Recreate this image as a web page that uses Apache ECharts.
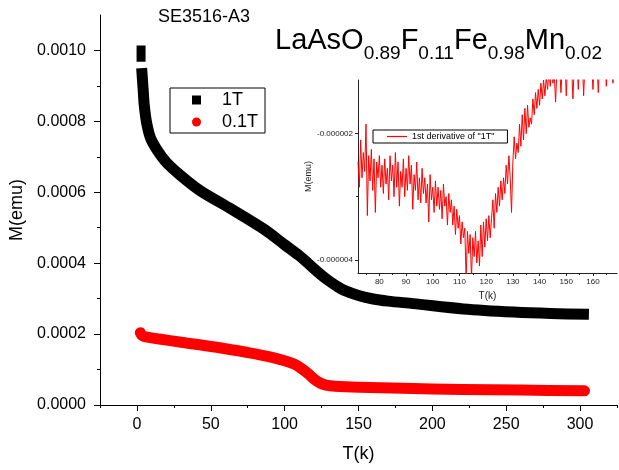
<!DOCTYPE html>
<html><head><meta charset="utf-8">
<script src="https://cdn.jsdelivr.net/npm/echarts@6/dist/echarts.min.js"></script>
<style>html,body{margin:0;padding:0;background:#fff}#c{width:619px;height:470px}</style>
</head><body><div id="c"></div>
<script>
// ---- tick labels ----
const xTicksMain = [0, 50, 100, 150, 200, 250, 300];
const xMinorMain = [-25, 25, 75, 125, 175, 225, 275, 325];
const yTicksMain = [0, 0.0002, 0.0004, 0.0006, 0.0008, 0.0010];
const yMinorMain = [0.0001, 0.0003, 0.0005, 0.0007, 0.0009];
const xTicksInset = [80, 90, 100, 110, 120, 130, 140, 150, 160];
const xMinorInset = [75, 85, 95, 105, 115, 125, 135, 145, 155, 165];
const yTicksInset = [-0.000004, -0.000002];
const yMinorInset = [-0.000003];

// ---- series: 1T ----
const T_1T_first = [2.8, 2.8];
const M_1T_first = [0.001014, 0.000968];
const T_1T = [3.2, 4.2, 4.9, 6.6, 9.3, 14, 20, 30, 43, 63, 86, 100, 110, 115, 120, 125, 130, 135, 140, 150, 160, 170, 187, 221, 255, 280, 306];
const M_1T = [0.000950, 0.000891, 0.000848, 0.000795, 0.000752, 0.000717, 0.000684, 0.000646, 0.000604, 0.000555, 0.000496, 0.000452, 0.000421, 0.000403, 0.000384, 0.000366, 0.000350, 0.000336, 0.000324, 0.000309, 0.000299, 0.000293, 0.000286, 0.000271, 0.000262, 0.000258, 0.000256];

// ---- series: 0.1T ----
const T_01T = [2.3, 3.5, 6, 15, 30, 54, 75, 90, 100, 106, 111, 116, 120, 124, 128, 134, 150, 180, 220, 260, 303];
const M_01T = [0.000204, 0.000196, 0.000192, 0.000186, 0.000177, 0.000163, 0.000148, 0.000136, 0.000125, 0.000116, 0.000104, 0.000088, 0.000073, 0.000062, 0.000056, 0.000053, 0.000050, 0.000047, 0.000044, 0.000042, 0.000040];

// ---- inset: 1st derivative of "1T" (values in units of 1e-6 emu/K) ----
const T_deriv = [
72,72.5,73,73.5,74,74.5,75,75.5,76,76.5,
77,77.5,78,78.5,79,79.5,80,80.5,81,81.5,
82,82.5,83,83.5,84,84.5,85,85.5,86,86.5,
87,87.5,88,88.5,89,89.5,90,90.5,91,91.5,
92,92.5,93,93.5,94,94.5,95,95.5,96,96.5,
97,97.5,98,98.5,99,99.5,100,100.5,101,101.5,
102,102.5,103,103.5,104,104.5,105,105.5,106,106.5,
107,107.5,108,108.5,109,109.5,110,110.5,111,111.5,
112,112.5,113,113.5,114,114.5,115,115.5,116,116.5,
117,117.5,118,118.5,119,119.5,120,120.5,121,121.5,
122,122.5,123,123.5,124,124.5,125,125.5,126,126.5,
127,127.5,128,128.5,129,129.5,130,130.5,131,131.5,
132,132.5,133,133.5,134,134.5,135,135.5,136,136.5,
137,137.5,138,138.5,139,139.5,140,140.5,141,141.5,
142,142.5,143,143.5,144,144.5,145,145.5,146,146.5,
147,147.5,148,148.5,149,149.5,150,150.5,151,151.5,
152,152.5,153,153.5,154,154.5,155,155.5,156,156.5,
157,157.5,158,158.5,159,159.5,160,160.5,161,161.5,
162,162.5,163,163.5,164,164.5,165,165.5,166,166.5,
167,167.5,168,168.5,169];
const D_deriv = [
-2.45,-2.85,-2.10,-2.70,-2.30,-2.60,-1.85,-3.30,-2.35,-2.75,
-2.25,-2.90,-2.40,-3.25,-2.45,-2.70,-2.35,-2.85,-2.50,-2.95,
-2.40,-2.80,-2.55,-3.05,-2.35,-2.75,-2.50,-3.00,-2.30,-2.85,
-2.45,-3.15,-2.60,-2.85,-2.40,-3.00,-2.55,-2.90,-2.35,-2.80,
-2.50,-3.20,-2.65,-2.90,-2.45,-3.05,-2.70,-3.10,-2.55,-2.95,
-2.70,-3.10,-2.80,-3.40,-2.65,-3.05,-2.85,-3.25,-2.75,-3.15,
-2.85,-3.20,-2.90,-3.35,-2.80,-3.15,-3.00,-3.45,-2.95,-3.25,
-3.05,-3.45,-3.15,-3.60,-3.20,-3.50,-3.30,-3.75,-3.40,-3.65,
-3.50,-4.30,-3.55,-3.90,-3.60,-4.30,-3.65,-3.95,-3.55,-4.05,
-3.70,-4.10,-3.45,-3.95,-3.40,-3.80,-3.35,-3.70,-3.30,-3.65,
-3.35,-3.05,-3.50,-2.95,-3.25,-2.85,-3.15,-2.75,-3.05,-2.70,
-2.95,-2.50,-2.80,-2.35,-2.70,-3.25,-2.45,-2.05,-2.40,-2.15,
-2.30,-1.85,-2.20,-1.70,-2.10,-1.60,-2.00,-1.55,-1.90,-1.75,
-1.85,-1.45,-1.70,-1.35,-1.60,-1.30,-1.55,-1.20,-1.45,-1.15,
-1.40,-1.10,-1.30,-1.00,-1.25,-0.95,-1.20,-1.05,-1.50,-1.00,
-1.10,-0.90,-1.35,-0.95,-1.05,-0.85,-1.40,-0.90,-1.00,-0.85,
-0.95,-1.45,-0.90,-1.00,-0.85,-1.30,-0.90,-0.95,-0.80,-1.40,
-0.90,-1.05,-0.85,-0.95,-0.80,-0.90,-1.30,-0.85,-0.80,-0.90,
-1.35,-0.85,-0.80,-0.90,-0.85,-0.80,-1.25,-0.90,-0.85,-0.80,
-0.85,-1.20,-0.80,-0.85,-0.80];

const FONT = 'Liberation Sans, Arial, sans-serif';
const zip = (a, b, k) => a.map((v, i) => [v, b[i] * (k || 1)]);

function valAxis(o) {
  return Object.assign({
    type: 'value',
    splitLine: { show: false },
    axisLine: { show: true, onZero: false, lineStyle: { color: '#000', width: 1 } },
  }, o);
}

const chart = echarts.init(document.getElementById('c'), null, { renderer: 'canvas' });
chart.setOption({
  animation: false,
  backgroundColor: '#fff',
  textStyle: { fontFamily: FONT },
  title: [
    { text: 'SE3516-A3', left: 158, top: 8, padding: 0,
      textStyle: { fontSize: 18, fontWeight: 'normal', color: '#000', fontFamily: FONT, lineHeight: 18 } },
    { text: '{m|LaAsO}{s|0.89}{m|F}{s|0.11}{m|Fe}{s|0.98}{m|Mn}{s|0.02}', left: 275, top: 26, padding: 0,
      textStyle: {
        fontFamily: FONT, color: '#000', fontWeight: 'normal',
        rich: {
          m: { fontSize: 29, lineHeight: 29, verticalAlign: 'top', fontFamily: FONT, color: '#000', fontWeight: 'normal' },
          s: { fontSize: 19, lineHeight: 19, verticalAlign: 'top', padding: [18, 0, 0, 0], fontFamily: FONT, color: '#000', fontWeight: 'normal' }
        }
      } }
  ],
  legend: [
    { orient: 'vertical', left: 170, top: 88, itemWidth: 9, itemHeight: 9, itemGap: 0,
      padding: [1, 7, 0, 22], borderColor: '#000', borderWidth: 1, borderRadius: 0,
      selectedMode: false,
      textStyle: { fontSize: 18, lineHeight: 22, color: '#000', fontFamily: FONT, padding: [0, 0, 0, 16] },
      data: [ { name: '1T', icon: 'rect' }, { name: '0.1T', icon: 'circle' } ] },
    { orient: 'vertical', left: 373, top: 130, itemWidth: 20, itemHeight: 11, itemGap: 0,
      padding: [1, 13, 1, 14], borderColor: '#000', borderWidth: 1, borderRadius: 0, selectedMode: false,
      symbolKeepAspect: true,
      textStyle: { fontSize: 9, lineHeight: 11, color: '#000', fontFamily: FONT },
      data: [ { name: '1st derivative of "1T"', icon: 'path://M0,0L1,0L1,0.06L0,0.06Z' } ] }
  ],
  grid: [
    { left: 100, top: 15, right: 2, bottom: 65 },
    { left: 358, top: 80, right: 2, bottom: 197 }
  ],
  xAxis: [
    valAxis({ gridIndex: 0, min: -25, max: 325,
      axisTick: { show: true, customValues: xTicksMain, length: 6, lineStyle: { color: '#000' } },
      axisLabel: { customValues: xTicksMain, fontSize: 16, color: '#000', margin: 12, fontFamily: FONT },
      name: 'T(k)', nameLocation: 'middle', nameGap: 40,
      nameTextStyle: { fontSize: 18, color: '#000', fontFamily: FONT } }),
    valAxis({ gridIndex: 0, min: -25, max: 325, position: 'bottom', axisLine: { show: false, onZero: false },
      axisTick: { show: true, customValues: xMinorMain, length: 3, lineStyle: { color: '#000' } },
      axisLabel: { show: false } }),
    valAxis({ gridIndex: 1, min: 72, max: 169,
      axisLine: { show: true, onZero: false, lineStyle: { color: '#222', width: 1 } },
      axisTick: { show: true, customValues: xTicksInset, length: 3, lineStyle: { color: '#222' } },
      axisLabel: { customValues: xTicksInset, fontSize: 8, color: '#222', margin: 5, fontFamily: FONT },
      name: 'T(k)', nameLocation: 'middle', nameGap: 18,
      nameTextStyle: { fontSize: 10, color: '#222', fontFamily: FONT } }),
    valAxis({ gridIndex: 1, min: 72, max: 169, position: 'bottom', axisLine: { show: false, onZero: false },
      axisTick: { show: true, customValues: xMinorInset, length: 2, lineStyle: { color: '#222' } },
      axisLabel: { show: false } })
  ],
  yAxis: [
    valAxis({ gridIndex: 0, min: 0, max: 0.0011,
      axisTick: { show: true, customValues: yTicksMain, length: 6, lineStyle: { color: '#000' } },
      axisLabel: { customValues: yTicksMain, fontSize: 16, color: '#000', margin: 14, fontFamily: FONT,
        formatter: v => v.toFixed(4) },
      name: 'M(emu)', nameLocation: 'middle', nameGap: 72,
      nameTextStyle: { fontSize: 18, color: '#000', fontFamily: FONT } }),
    valAxis({ gridIndex: 0, min: 0, max: 0.0011, position: 'left', axisLine: { show: false, onZero: false },
      axisTick: { show: true, customValues: yMinorMain, length: 3, lineStyle: { color: '#000' } },
      axisLabel: { show: false } }),
    valAxis({ gridIndex: 1, min: -0.00000421, max: -0.00000115,
      axisLine: { show: true, onZero: false, lineStyle: { color: '#222', width: 1 } },
      axisTick: { show: true, customValues: yTicksInset, length: 3, lineStyle: { color: '#222' } },
      axisLabel: { customValues: yTicksInset, fontSize: 8, color: '#222', margin: 5, fontFamily: FONT,
        formatter: v => v.toFixed(6) },
      name: 'M(emu)', nameLocation: 'middle', nameGap: 43,
      nameTextStyle: { fontSize: 9, color: '#222', fontFamily: FONT } }),
    valAxis({ gridIndex: 1, min: -0.00000421, max: -0.00000115, position: 'left', axisLine: { show: false, onZero: false },
      axisTick: { show: true, customValues: yMinorInset, length: 2, lineStyle: { color: '#222' } },
      axisLabel: { show: false } })
  ],
  series: [
    { name: '1T', type: 'line', xAxisIndex: 0, yAxisIndex: 0, data: zip(T_1T_first, M_1T_first),
      symbol: 'none', color: '#000', silent: true,
      lineStyle: { width: 9, color: '#000', cap: 'butt' } },
    { name: '1T', type: 'line', xAxisIndex: 0, yAxisIndex: 0, data: zip(T_1T, M_1T),
      symbol: 'none', color: '#000', smooth: 0.3, silent: true,
      lineStyle: { width: 11, color: '#000', cap: 'butt', join: 'round' } },
    { name: '0.1T', type: 'line', xAxisIndex: 0, yAxisIndex: 0, data: zip(T_01T, M_01T),
      symbol: 'none', color: '#ff0000', smooth: 0.3, silent: true,
      lineStyle: { width: 11, color: '#ff0000', cap: 'round', join: 'round' } },
    { name: '1st derivative of "1T"', type: 'line', xAxisIndex: 2, yAxisIndex: 2,
      data: zip(T_deriv, D_deriv, 1e-6), symbol: 'none', color: '#ff0000', silent: true, clip: true,
      lineStyle: { width: 1, color: '#ff0000' } }
  ]
});
</script></body></html>
